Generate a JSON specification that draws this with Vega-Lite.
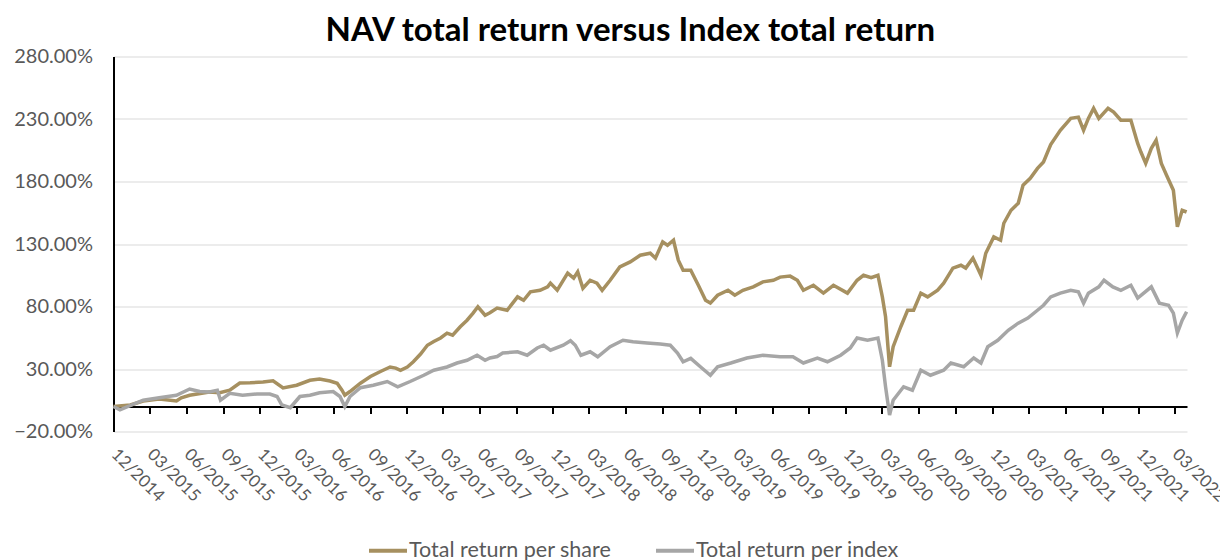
{
  "$schema": "https://vega.github.io/schema/vega-lite/v6.json",
  "width": 1073.5,
  "height": 375,
  "autosize": {"type": "none"},
  "padding": {"left": 113.5, "top": 56.5, "right": 33, "bottom": 128.5},
  "background": "white",
  "title": {"text": "NAV total return versus Index total return", "font": "Lato", "fontSize": 33, "fontWeight": "bold", "color": "#000000", "anchor": "middle", "dx": -20, "offset": -1},
  "datasets": {
    "share": [
      {"date":"2014-12-01","value":0},{"date":"2015-01-12","value":1.2},{"date":"2015-02-13","value":4.4},{"date":"2015-03-25","value":6},{"date":"2015-05-07","value":4.4},{"date":"2015-05-19","value":7},{"date":"2015-06-09","value":9},{"date":"2015-07-28","value":11.6},{"date":"2015-08-23","value":11},{"date":"2015-09-17","value":13},{"date":"2015-10-12","value":18.8},{"date":"2015-11-07","value":19},{"date":"2015-12-09","value":19.6},{"date":"2016-01-03","value":20.6},{"date":"2016-01-28","value":14.8},{"date":"2016-03-02","value":17},{"date":"2016-04-04","value":21},{"date":"2016-04-28","value":22},{"date":"2016-05-24","value":20.4},{"date":"2016-06-11","value":18.6},{"date":"2016-06-23","value":13},{"date":"2016-06-30","value":9},{"date":"2016-07-13","value":12},{"date":"2016-08-08","value":18.6},{"date":"2016-09-02","value":24},{"date":"2016-09-27","value":28},{"date":"2016-10-21","value":31.6},{"date":"2016-11-04","value":30.7},{"date":"2016-11-16","value":29},{"date":"2016-12-03","value":31.6},{"date":"2016-12-18","value":35.8},{"date":"2017-01-05","value":42},{"date":"2017-01-22","value":49},{"date":"2017-02-07","value":52},{"date":"2017-02-24","value":54.8},{"date":"2017-03-12","value":58.7},{"date":"2017-03-26","value":57},{"date":"2017-04-14","value":63.8},{"date":"2017-05-01","value":69},{"date":"2017-05-16","value":74.7},{"date":"2017-05-28","value":79.8},{"date":"2017-06-15","value":73},{"date":"2017-06-27","value":75},{"date":"2017-07-15","value":78.7},{"date":"2017-08-09","value":77},{"date":"2017-09-04","value":87.7},{"date":"2017-09-19","value":85},{"date":"2017-10-06","value":91.7},{"date":"2017-10-30","value":93},{"date":"2017-11-18","value":95.7},{"date":"2017-11-25","value":98.7},{"date":"2017-12-12","value":93},{"date":"2018-01-07","value":106.7},{"date":"2018-01-22","value":102.7},{"date":"2018-02-01","value":107.7},{"date":"2018-02-14","value":94.6},{"date":"2018-03-04","value":101},{"date":"2018-03-21","value":98.7},{"date":"2018-04-03","value":93},{"date":"2018-04-23","value":101},{"date":"2018-05-17","value":111.7},{"date":"2018-06-12","value":115.7},{"date":"2018-07-07","value":121},{"date":"2018-08-01","value":122.6},{"date":"2018-08-14","value":118.7},{"date":"2018-09-01","value":131.7},{"date":"2018-09-13","value":129},{"date":"2018-09-28","value":133},{"date":"2018-10-10","value":117},{"date":"2018-10-22","value":109},{"date":"2018-11-10","value":109},{"date":"2018-11-29","value":97},{"date":"2018-12-17","value":85},{"date":"2018-12-29","value":82.7},{"date":"2019-01-16","value":89},{"date":"2019-02-11","value":93},{"date":"2019-02-28","value":89},{"date":"2019-03-20","value":93},{"date":"2019-04-15","value":95.7},{"date":"2019-05-09","value":99.7},{"date":"2019-06-04","value":101},{"date":"2019-06-21","value":103.5},{"date":"2019-07-16","value":104.3},{"date":"2019-08-03","value":101},{"date":"2019-08-18","value":93},{"date":"2019-09-12","value":97},{"date":"2019-10-07","value":90.7},{"date":"2019-11-01","value":97},{"date":"2019-12-06","value":90.7},{"date":"2019-12-30","value":101},{"date":"2020-01-15","value":105},{"date":"2020-02-03","value":103},{"date":"2020-02-20","value":105},{"date":"2020-03-02","value":87.7},{"date":"2020-03-10","value":71.8},{"date":"2020-03-20","value":31.8},{"date":"2020-03-29","value":47.8},{"date":"2020-04-17","value":63.8},{"date":"2020-05-04","value":77},{"date":"2020-05-19","value":77},{"date":"2020-06-06","value":90.7},{"date":"2020-06-23","value":87.7},{"date":"2020-07-18","value":93},{"date":"2020-08-02","value":98.7},{"date":"2020-08-25","value":110.7},{"date":"2020-09-14","value":113},{"date":"2020-09-26","value":110.7},{"date":"2020-10-14","value":118.7},{"date":"2020-11-03","value":105},{"date":"2020-11-15","value":122.6},{"date":"2020-12-05","value":135.7},{"date":"2020-12-22","value":133},{"date":"2020-12-30","value":146.6},{"date":"2021-01-17","value":157},{"date":"2021-02-04","value":162.6},{"date":"2021-02-16","value":177},{"date":"2021-03-06","value":182.6},{"date":"2021-03-24","value":190.5},{"date":"2021-04-08","value":195.6},{"date":"2021-04-26","value":209.5},{"date":"2021-05-20","value":221},{"date":"2021-06-15","value":230.5},{"date":"2021-07-04","value":231.5},{"date":"2021-07-17","value":221},{"date":"2021-07-29","value":230.5},{"date":"2021-08-11","value":238.5},{"date":"2021-08-24","value":230.5},{"date":"2021-09-16","value":238.5},{"date":"2021-09-30","value":235.5},{"date":"2021-10-18","value":229},{"date":"2021-11-12","value":229},{"date":"2021-11-29","value":210.5},{"date":"2021-12-07","value":203.6},{"date":"2021-12-19","value":194.5},{"date":"2022-01-02","value":206.5},{"date":"2022-01-14","value":213},{"date":"2022-01-27","value":194.5},{"date":"2022-02-09","value":185},{"date":"2022-02-26","value":173},{"date":"2022-03-08","value":143.7},{"date":"2022-03-20","value":157},{"date":"2022-03-31","value":155.6}
    ],
    "index": [
      {"date":"2014-12-01","value":0},{"date":"2014-12-17","value":-2.7},{"date":"2015-02-13","value":5},{"date":"2015-03-25","value":7},{"date":"2015-05-07","value":9},{"date":"2015-06-09","value":14},{"date":"2015-07-04","value":12},{"date":"2015-07-28","value":11.6},{"date":"2015-08-17","value":13},{"date":"2015-08-25","value":5},{"date":"2015-09-17","value":10.5},{"date":"2015-10-19","value":9},{"date":"2015-11-24","value":10},{"date":"2015-12-26","value":10},{"date":"2016-01-13","value":8},{"date":"2016-01-25","value":1.2},{"date":"2016-02-15","value":-1},{"date":"2016-03-02","value":5},{"date":"2016-03-10","value":8},{"date":"2016-04-04","value":9},{"date":"2016-04-28","value":11},{"date":"2016-06-01","value":12},{"date":"2016-06-18","value":8},{"date":"2016-06-30","value":0},{"date":"2016-07-13","value":8},{"date":"2016-08-08","value":15},{"date":"2016-09-09","value":17},{"date":"2016-10-14","value":20},{"date":"2016-11-09","value":15.8},{"date":"2016-12-10","value":20},{"date":"2017-01-13","value":25},{"date":"2017-02-07","value":29},{"date":"2017-03-12","value":31.6},{"date":"2017-04-06","value":34.8},{"date":"2017-05-01","value":37},{"date":"2017-05-26","value":41},{"date":"2017-06-15","value":37},{"date":"2017-06-27","value":38.8},{"date":"2017-07-15","value":40},{"date":"2017-07-29","value":42.8},{"date":"2017-09-04","value":43.8},{"date":"2017-09-28","value":41},{"date":"2017-10-23","value":46.8},{"date":"2017-11-08","value":49},{"date":"2017-11-25","value":45},{"date":"2017-12-27","value":49},{"date":"2018-01-14","value":52.6},{"date":"2018-01-26","value":49},{"date":"2018-02-09","value":41},{"date":"2018-03-04","value":43.8},{"date":"2018-03-23","value":39.8},{"date":"2018-04-23","value":47.8},{"date":"2018-05-25","value":53},{"date":"2018-06-19","value":51.8},{"date":"2018-07-24","value":50.8},{"date":"2018-08-26","value":50},{"date":"2018-09-20","value":49},{"date":"2018-10-08","value":42.8},{"date":"2018-10-22","value":35.8},{"date":"2018-11-10","value":38.5},{"date":"2018-12-04","value":31.8},{"date":"2018-12-29","value":25},{"date":"2019-01-16","value":31.8},{"date":"2019-02-18","value":34.8},{"date":"2019-03-30","value":38.8},{"date":"2019-05-09","value":41},{"date":"2019-06-21","value":39.8},{"date":"2019-07-23","value":39.8},{"date":"2019-08-18","value":34.8},{"date":"2019-09-22","value":38.8},{"date":"2019-10-17","value":35.8},{"date":"2019-11-19","value":41},{"date":"2019-12-13","value":46.8},{"date":"2019-12-30","value":54.8},{"date":"2020-01-25","value":53},{"date":"2020-02-20","value":54.8},{"date":"2020-03-02","value":37},{"date":"2020-03-10","value":15.8},{"date":"2020-03-20","value":-6.8},{"date":"2020-03-29","value":5},{"date":"2020-04-24","value":15.8},{"date":"2020-05-16","value":13},{"date":"2020-06-06","value":29},{"date":"2020-06-30","value":25},{"date":"2020-08-02","value":29},{"date":"2020-08-20","value":34.8},{"date":"2020-09-21","value":31.8},{"date":"2020-10-16","value":38.8},{"date":"2020-11-03","value":34.8},{"date":"2020-11-20","value":47.8},{"date":"2020-12-15","value":53},{"date":"2021-01-10","value":61},{"date":"2021-02-04","value":66.7},{"date":"2021-02-28","value":70.7},{"date":"2021-03-24","value":77},{"date":"2021-04-08","value":81},{"date":"2021-04-26","value":87.7},{"date":"2021-05-20","value":90.7},{"date":"2021-06-15","value":93},{"date":"2021-07-04","value":91.7},{"date":"2021-07-17","value":82.7},{"date":"2021-07-29","value":90.7},{"date":"2021-08-24","value":95.7},{"date":"2021-09-06","value":101},{"date":"2021-09-28","value":95.7},{"date":"2021-10-18","value":93},{"date":"2021-11-12","value":97},{"date":"2021-11-29","value":86.7},{"date":"2021-12-14","value":90.7},{"date":"2022-01-02","value":95.7},{"date":"2022-01-22","value":82.7},{"date":"2022-02-14","value":81},{"date":"2022-02-26","value":74.7},{"date":"2022-03-08","value":58.8},{"date":"2022-03-20","value":69},{"date":"2022-03-31","value":75.8}
    ]
  },
  "layer": [
    {
      "data": {"name": "share"},
      "mark": {"type": "line", "strokeWidth": 3.5},
      "encoding": {
        "x": {
          "field": "date", "type": "temporal",
          "scale": {"type": "utc", "domain": [{"year": 2014, "month": 12, "date": 1, "utc": true}, {"year": 2022, "month": 4, "date": 1, "utc": true}]},
          "axis": {
            "orient": "bottom", "title": null, "grid": false, "offset": -25.1,
            "domain": true, "domainColor": "#000000", "domainWidth": 2,
            "ticks": true, "tickColor": "#000000", "tickWidth": 2, "tickSize": 7,
            "labelAngle": 45, "labelAlign": "left", "labelBaseline": "middle", "labelPadding": 38,
            "labelFont": "Lato", "labelFontSize": 17, "labelColor": "#595959",
            "labelOverlap": false, "labelFlush": false, "labelBound": false,
            "labelExpr": "utcFormat(datum.value, '%m/%Y')",
            "values": [
              {"year":2014,"month":12,"date":1,"utc":true},
              {"year":2015,"month":3,"date":1,"utc":true},{"year":2015,"month":6,"date":1,"utc":true},{"year":2015,"month":9,"date":1,"utc":true},{"year":2015,"month":12,"date":1,"utc":true},
              {"year":2016,"month":3,"date":1,"utc":true},{"year":2016,"month":6,"date":1,"utc":true},{"year":2016,"month":9,"date":1,"utc":true},{"year":2016,"month":12,"date":1,"utc":true},
              {"year":2017,"month":3,"date":1,"utc":true},{"year":2017,"month":6,"date":1,"utc":true},{"year":2017,"month":9,"date":1,"utc":true},{"year":2017,"month":12,"date":1,"utc":true},
              {"year":2018,"month":3,"date":1,"utc":true},{"year":2018,"month":6,"date":1,"utc":true},{"year":2018,"month":9,"date":1,"utc":true},{"year":2018,"month":12,"date":1,"utc":true},
              {"year":2019,"month":3,"date":1,"utc":true},{"year":2019,"month":6,"date":1,"utc":true},{"year":2019,"month":9,"date":1,"utc":true},{"year":2019,"month":12,"date":1,"utc":true},
              {"year":2020,"month":3,"date":1,"utc":true},{"year":2020,"month":6,"date":1,"utc":true},{"year":2020,"month":9,"date":1,"utc":true},{"year":2020,"month":12,"date":1,"utc":true},
              {"year":2021,"month":3,"date":1,"utc":true},{"year":2021,"month":6,"date":1,"utc":true},{"year":2021,"month":9,"date":1,"utc":true},{"year":2021,"month":12,"date":1,"utc":true},
              {"year":2022,"month":3,"date":1,"utc":true}
            ]
          }
        },
        "y": {
          "field": "value", "type": "quantitative",
          "scale": {"domain": [-20, 280], "nice": false, "zero": false},
          "axis": {
            "title": null, "values": [-20, 30, 80, 130, 180, 230, 280],
            "labelExpr": "format(datum.value, '.2f') + '%'",
            "labelFont": "Lato", "labelFontSize": 20, "labelColor": "#595959", "labelPadding": 21,
            "ticks": false, "domain": true, "domainColor": "#000000", "domainWidth": 2,
            "grid": true, "gridColor": "#D9D9D9", "gridWidth": 1
          }
        },
        "color": {
          "datum": "Total return per share",
          "scale": {"domain": ["Total return per share", "Total return per index"], "range": ["#A69060", "#A6A6A6"]},
          "legend": {
            "title": null, "orient": "none", "legendX": 253.5, "legendY": 473, "direction": "horizontal",
            "symbolType": "stroke", "symbolSize": 1444, "symbolStrokeWidth": 4,
            "labelFont": "Lato", "labelFontSize": 21.5, "labelColor": "#595959", "labelOffset": 0, "labelLimit": 400, "columnPadding": 36
          }
        }
      }
    },
    {
      "data": {"name": "index"},
      "mark": {"type": "line", "strokeWidth": 3.5},
      "encoding": {
        "x": {"field": "date", "type": "temporal", "axis": null},
        "y": {"field": "value", "type": "quantitative"},
        "color": {"datum": "Total return per index"}
      }
    }
  ],
  "resolve": {"axis": {"x": "independent"}},
  "config": {"view": {"stroke": null}}
}
